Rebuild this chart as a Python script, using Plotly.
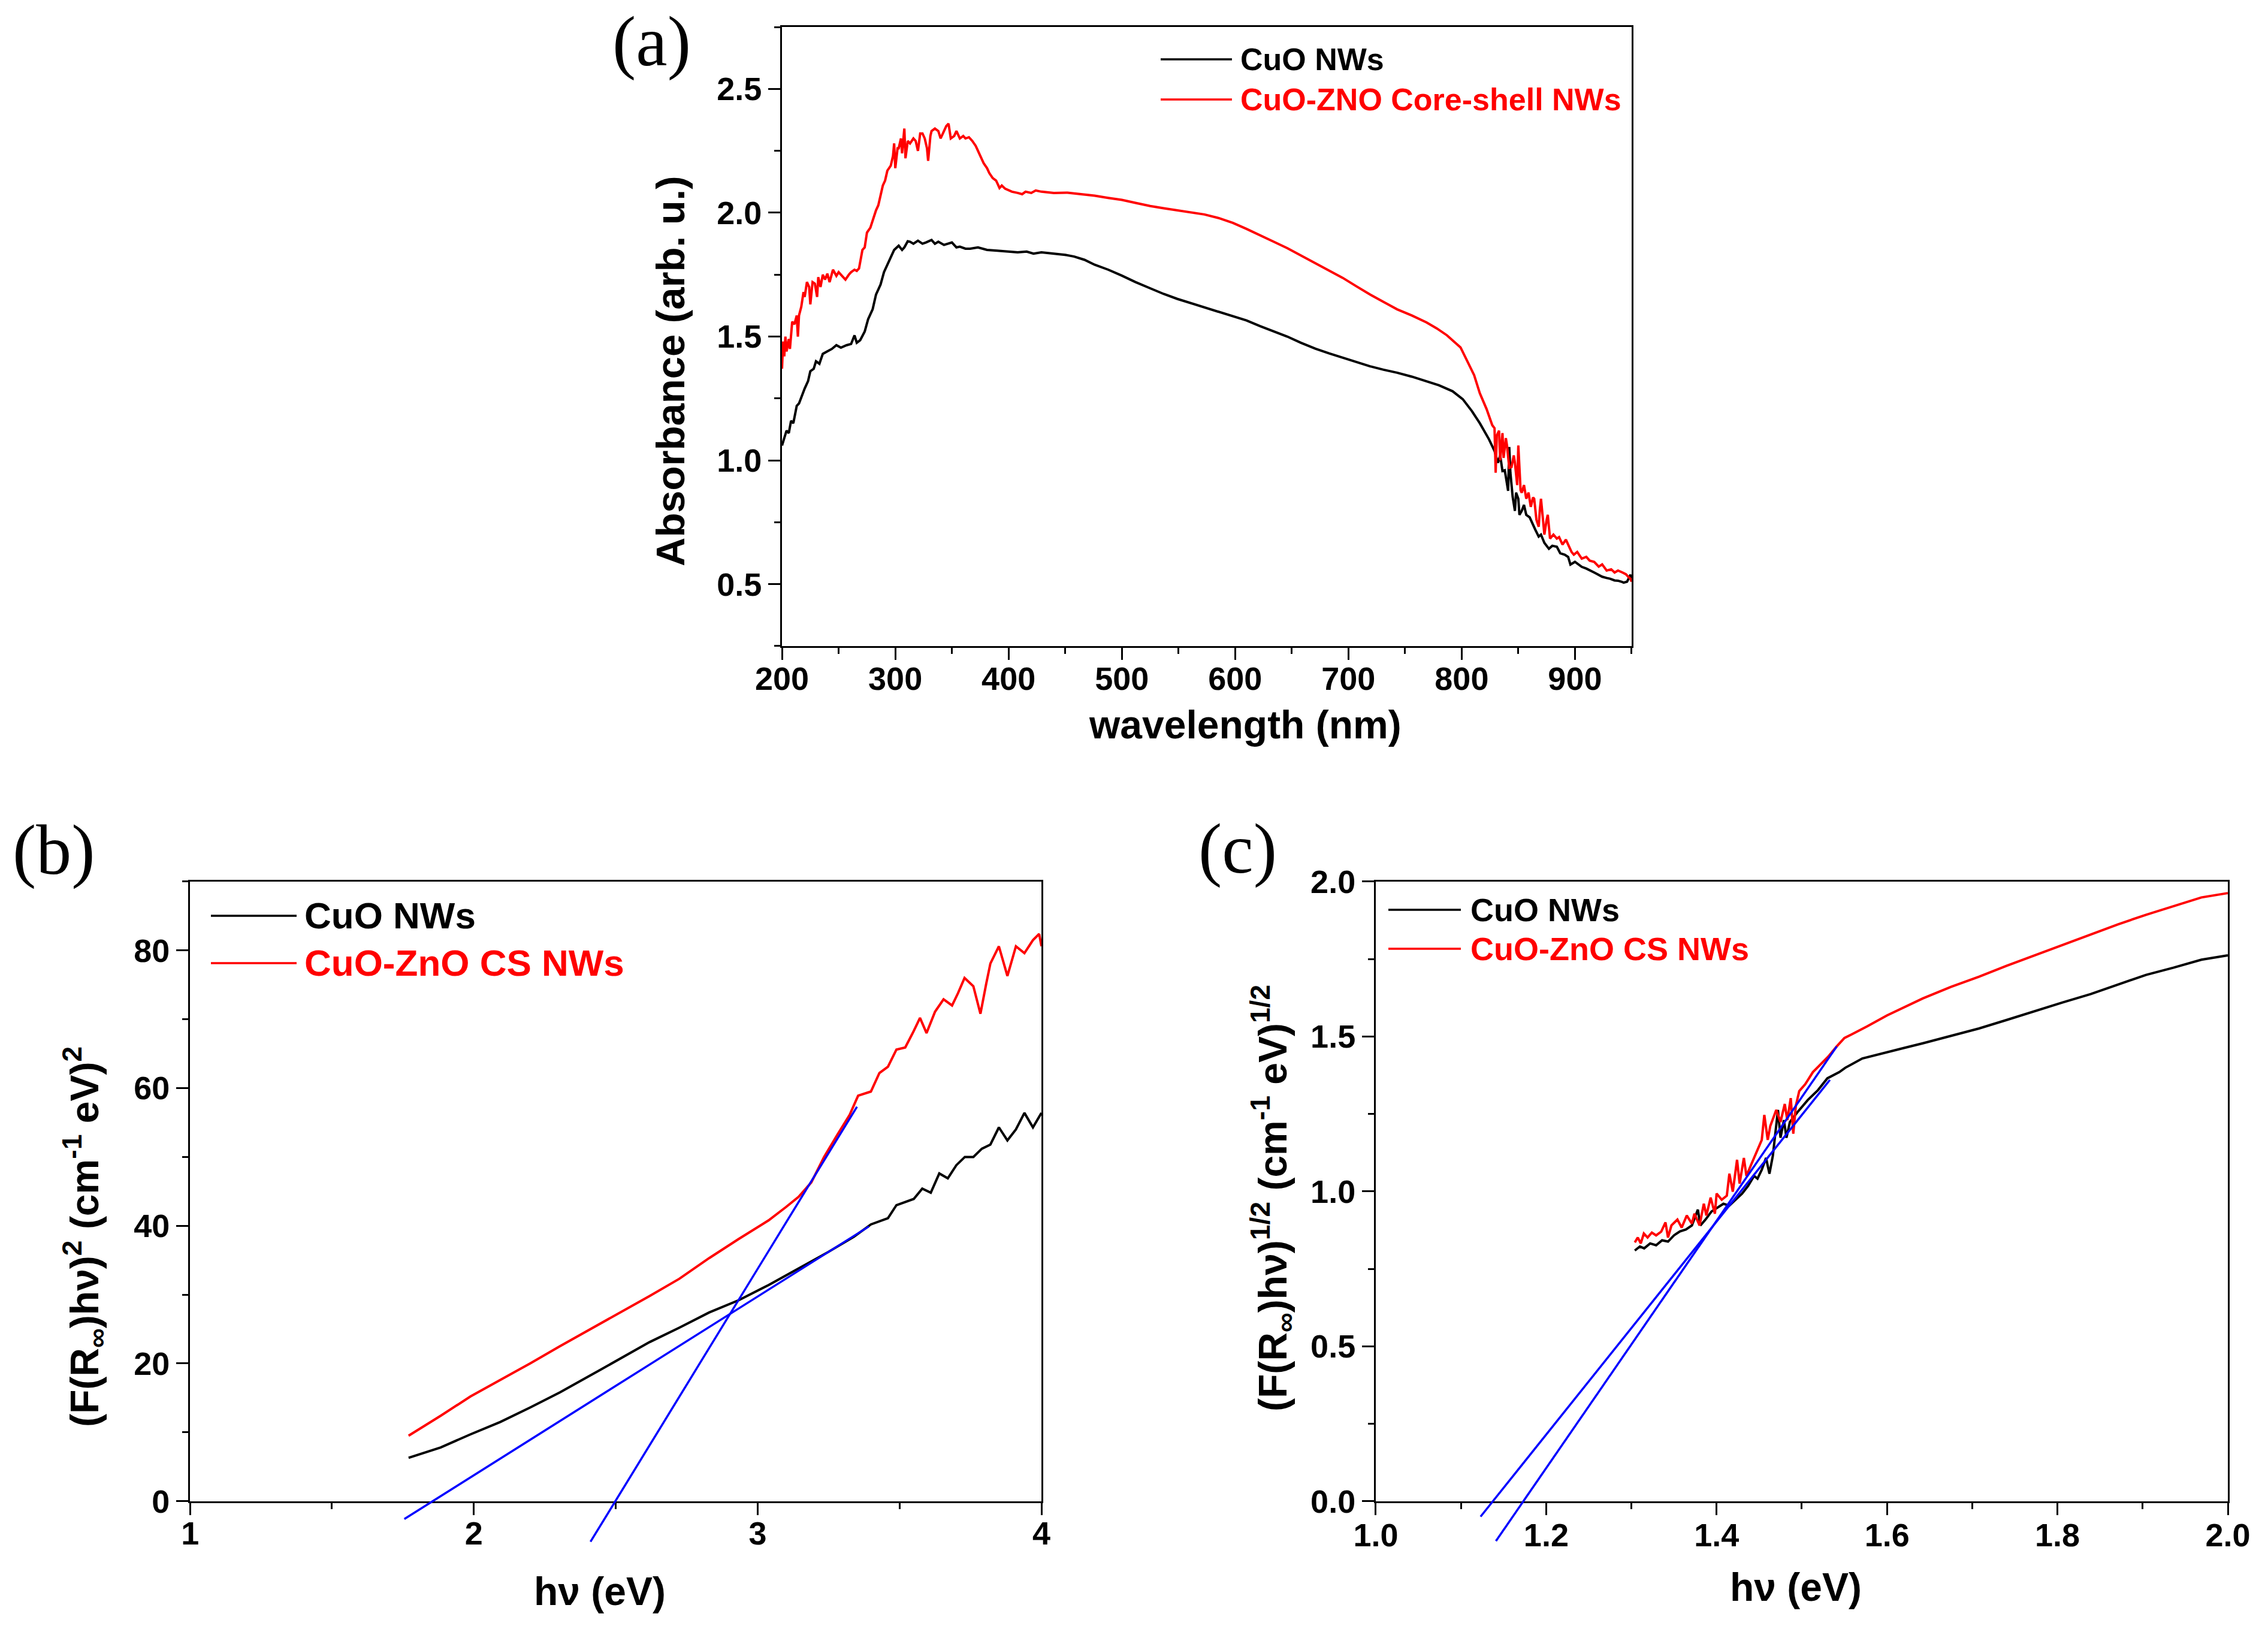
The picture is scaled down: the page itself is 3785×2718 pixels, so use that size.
import plotly.graph_objects as go

W, H = 3785, 2718

# ---------------- Panel (a): absorbance vs wavelength ----------------
a_wl_cuo = [200, 202, 204, 206, 208, 210, 213, 215, 218, 220, 223, 225, 228, 230, 233, 236, 240, 244, 248, 252,
            257, 261, 264, 266, 269, 273, 276, 280, 283, 287, 290, 295, 299, 303, 306, 308, 311, 313, 316, 320,
            324, 327, 332, 335, 338, 343, 347, 350, 354, 357, 362, 366, 373, 381, 390, 399, 408, 416, 422, 429,
            440, 450, 458, 467, 476, 488, 500, 512, 525, 537, 549, 561, 573, 586, 598, 610, 622, 634, 646, 658,
            671, 683, 695, 707, 719, 731, 743, 756, 769, 780, 792, 801, 809, 816, 824, 829, 832, 834, 836, 838,
            839, 841, 842, 843, 845, 847, 848, 850, 851, 853, 855, 857, 860, 862, 865, 868, 870, 873, 875, 877,
            880, 884, 887, 891, 894, 896, 900, 903, 906, 910, 914, 917, 920, 924, 928, 931, 935, 938, 941, 943,
            946, 949, 950]
a_abs_cuo = [1.06, 1.09, 1.12, 1.11, 1.16, 1.15, 1.22, 1.23, 1.27, 1.29, 1.32, 1.36, 1.37, 1.40, 1.39, 1.43, 1.44, 1.45, 1.465, 1.455,
             1.465, 1.47, 1.505, 1.475, 1.485, 1.52, 1.57, 1.61, 1.67, 1.71, 1.76, 1.81, 1.85, 1.867, 1.85, 1.86, 1.885, 1.883, 1.875, 1.887,
             1.875, 1.88, 1.89, 1.875, 1.883, 1.87, 1.875, 1.88, 1.86, 1.863, 1.855, 1.855, 1.86, 1.85, 1.847, 1.843, 1.84, 1.843, 1.835, 1.84,
             1.834, 1.83, 1.823, 1.81, 1.79, 1.77, 1.746, 1.72, 1.695, 1.672, 1.652, 1.635, 1.618, 1.60, 1.584, 1.565, 1.542, 1.52, 1.50, 1.475,
             1.451, 1.432, 1.414, 1.396, 1.38, 1.366, 1.354, 1.338, 1.32, 1.303, 1.279, 1.247, 1.199, 1.15, 1.086, 1.038, 0.99, 1.02, 0.957, 0.96,
             0.933, 0.877, 1.054, 0.95, 0.853, 0.796, 0.87, 0.845, 0.78, 0.796, 0.82, 0.78, 0.77, 0.748, 0.72, 0.692, 0.70, 0.667, 0.655, 0.643,
             0.655, 0.651, 0.625, 0.619, 0.61, 0.579, 0.59, 0.579, 0.57, 0.563, 0.555, 0.547, 0.54, 0.53, 0.525, 0.522, 0.515, 0.514, 0.51, 0.506,
             0.51, 0.538, 0.52]

a_wl_cs = [200, 201, 202, 203, 204, 206, 207, 208, 209, 211, 213, 214, 215, 217, 219, 220, 222, 224, 225, 227,
           229, 231, 232, 234, 236, 238, 240, 242, 245, 248, 250, 253, 256, 259, 261, 264, 266, 268, 271, 273,
           275, 278, 280, 283, 285, 287, 289, 291, 293, 296, 298, 299, 300, 302, 303, 305, 306, 308, 309, 311,
           313, 316, 318, 320, 322, 324, 326, 328, 329, 331, 332, 335, 338, 340, 343, 345, 347, 349, 352, 354,
           357, 360, 362, 365, 368, 371, 373, 376, 378, 381, 383, 386, 389, 392, 394, 397, 400, 403, 408, 412,
           415, 420, 424, 429, 440, 452, 464, 476, 488, 500, 512, 525, 537, 549, 561, 573, 586, 598, 610, 622,
           634, 646, 658, 671, 683, 695, 707, 719, 731, 743, 756, 769, 778, 787, 799, 806, 811, 816, 822, 827,
           829, 830, 831, 833, 834, 836, 837, 839, 840, 842, 844, 846, 847, 849, 850, 852, 853, 855, 857, 859,
           861, 863, 864, 866, 868, 869, 870, 872, 873, 875, 876, 878, 881, 884, 886, 889, 892, 894, 897, 899,
           902, 906, 910, 913, 917, 921, 924, 928, 932, 935, 938, 942, 945, 947, 949, 950]
a_abs_cs = [1.37, 1.48, 1.42, 1.50, 1.44, 1.49, 1.45, 1.52, 1.56, 1.55, 1.585, 1.50, 1.585, 1.62, 1.68, 1.66, 1.72, 1.70, 1.63, 1.72,
            1.714, 1.66, 1.74, 1.70, 1.75, 1.73, 1.754, 1.72, 1.77, 1.745, 1.76, 1.745, 1.73, 1.75, 1.76, 1.77, 1.765, 1.775, 1.85, 1.86,
            1.92, 1.94, 1.97, 2.01, 2.03, 2.07, 2.11, 2.13, 2.17, 2.19, 2.23, 2.28, 2.18, 2.26, 2.26, 2.30, 2.24, 2.34, 2.22, 2.29,
            2.28, 2.30, 2.29, 2.25, 2.32, 2.32, 2.30, 2.26, 2.21, 2.31, 2.33, 2.34, 2.33, 2.30, 2.33, 2.35, 2.36, 2.30, 2.31, 2.33,
            2.30, 2.31, 2.30, 2.305, 2.29, 2.27, 2.25, 2.22, 2.20, 2.18, 2.16, 2.14, 2.13, 2.10, 2.11, 2.097, 2.09, 2.085, 2.08, 2.075,
            2.085, 2.08, 2.09, 2.085, 2.08, 2.081, 2.075, 2.069, 2.06, 2.052, 2.04, 2.027, 2.018, 2.01, 2.0, 1.993, 1.978, 1.959, 1.935, 1.908,
            1.883, 1.857, 1.827, 1.797, 1.767, 1.737, 1.703, 1.67, 1.64, 1.61, 1.585, 1.557, 1.533, 1.505, 1.456, 1.392, 1.344, 1.271, 1.207, 1.142,
            1.13, 0.95, 1.10, 1.12, 1.00, 1.11, 1.01, 1.09, 1.06, 0.97, 0.973, 1.02, 0.99, 0.90, 1.06, 0.88, 0.869, 0.90, 0.845, 0.87,
            0.812, 0.85, 0.845, 0.76, 0.732, 0.80, 0.845, 0.75, 0.70, 0.76, 0.78, 0.684, 0.70, 0.684, 0.69, 0.66, 0.68, 0.66, 0.63, 0.619,
            0.63, 0.603, 0.61, 0.595, 0.59, 0.571, 0.58, 0.555, 0.56, 0.547, 0.555, 0.547, 0.54, 0.53, 0.522, 0.51]

# ---------------- Panel (b): (F(R)hv)^2 vs hv ----------------
b_hv_cuo = [1.770, 1.883, 1.988, 2.093, 2.198, 2.303, 2.408, 2.514, 2.619, 2.724, 2.829, 2.934, 3.039, 3.144, 3.249,
            3.339, 3.399, 3.459, 3.489, 3.550, 3.580, 3.610, 3.640, 3.670, 3.700, 3.730, 3.760, 3.790, 3.820, 3.850,
            3.880, 3.910, 3.940, 3.970, 4.000]
b_val_cuo = [6.3, 7.8, 9.7, 11.5, 13.6, 15.8, 18.2, 20.7, 23.1, 25.2, 27.4, 29.2, 31.4, 33.8, 36.2,
             38.4, 40.2, 41.1, 43.0, 43.9, 45.4, 44.8, 47.6, 46.9, 48.8, 50.0, 50.0, 51.2, 51.8, 54.3,
             52.4, 54.0, 56.4, 54.3, 56.4]
b_hv_cs = [1.770, 1.883, 1.988, 2.093, 2.198, 2.303, 2.408, 2.514, 2.619, 2.724, 2.829, 2.934, 3.039, 3.099, 3.144,
           3.189, 3.234, 3.279, 3.324, 3.354, 3.399, 3.429, 3.459, 3.489, 3.520, 3.550, 3.572, 3.595, 3.625, 3.655,
           3.685, 3.706, 3.729, 3.760, 3.785, 3.805, 3.820, 3.850, 3.880, 3.910, 3.940, 3.970, 3.992, 4.000]
b_val_cs = [9.5, 12.4, 15.2, 17.6, 20.0, 22.5, 24.9, 27.4, 29.8, 32.3, 35.3, 38.1, 40.8, 42.7, 44.2,
            46.3, 50.0, 53.1, 56.1, 58.9, 59.5, 62.2, 63.1, 65.6, 65.9, 68.3, 70.2, 68.0, 71.1, 72.9,
            72.0, 73.8, 76.0, 74.8, 70.8, 75.1, 78.1, 80.6, 76.3, 80.6, 79.6, 81.5, 82.4, 80.6]
b_fit_cuo_x = [1.755, 3.392]
b_fit_cuo_y = [-2.6, 39.9]
b_fit_cs_x = [2.411, 3.350]
b_fit_cs_y = [-5.9, 57.3]

# ---------------- Panel (c): (F(R)hv)^1/2 vs hv ----------------
c_hv_cuo = [1.304, 1.310, 1.315, 1.322, 1.329, 1.336, 1.343, 1.350, 1.357, 1.364, 1.371, 1.378, 1.381, 1.387, 1.394,
            1.401, 1.408, 1.415, 1.422, 1.430, 1.437, 1.444, 1.448, 1.453, 1.458, 1.462, 1.466, 1.469, 1.472, 1.475,
            1.479, 1.482, 1.486, 1.495, 1.507, 1.519, 1.530, 1.544, 1.551, 1.571, 1.600, 1.620, 1.642, 1.675, 1.708,
            1.740, 1.773, 1.806, 1.839, 1.871, 1.904, 1.936, 1.969, 2.000]
c_val_cuo = [0.809, 0.822, 0.816, 0.832, 0.826, 0.842, 0.838, 0.858, 0.871, 0.877, 0.89, 0.941, 0.89, 0.909, 0.935,
             0.948, 0.96, 0.954, 0.973, 0.993, 1.018, 1.05, 1.041, 1.07, 1.108, 1.057, 1.115, 1.192, 1.263, 1.173,
             1.23, 1.173, 1.224, 1.256, 1.295, 1.327, 1.365, 1.385, 1.399, 1.429, 1.45, 1.463, 1.478, 1.502, 1.526,
             1.553, 1.582, 1.61, 1.637, 1.667, 1.699, 1.722, 1.748, 1.762]
c_hv_cs = [1.304, 1.3075, 1.311, 1.3146, 1.319, 1.324, 1.329, 1.335, 1.340, 1.343, 1.347, 1.354, 1.359, 1.365, 1.371,
           1.374, 1.380, 1.385, 1.388, 1.393, 1.398, 1.400, 1.406, 1.412, 1.415, 1.419, 1.424, 1.427, 1.432, 1.435,
           1.441, 1.446, 1.453, 1.456, 1.460, 1.463, 1.470, 1.475, 1.480, 1.483, 1.487, 1.490, 1.493, 1.497, 1.504,
           1.513, 1.522, 1.531, 1.541, 1.550, 1.558, 1.577, 1.600, 1.620, 1.642, 1.675, 1.708, 1.740, 1.773, 1.806,
           1.839, 1.871, 1.904, 1.936, 1.969, 2.000]
c_val_cs = [0.835, 0.851, 0.832, 0.864, 0.851, 0.867, 0.858, 0.870, 0.90, 0.851, 0.89, 0.909, 0.883, 0.922, 0.896,
            0.928, 0.89, 0.96, 0.922, 0.98, 0.928, 0.993, 0.973, 0.986, 1.057, 0.999, 1.102, 1.025, 1.108, 1.05,
            1.089, 1.121, 1.166, 1.247, 1.166, 1.211, 1.263, 1.224, 1.282, 1.23, 1.301, 1.186, 1.276, 1.324, 1.346,
            1.385, 1.41, 1.435, 1.468, 1.495, 1.506, 1.533, 1.568, 1.594, 1.623, 1.66, 1.693, 1.728, 1.762, 1.797,
            1.831, 1.862, 1.893, 1.921, 1.949, 1.963]
c_fit_cuo_x = [1.123, 1.533]
c_fit_cuo_y = [-0.05, 1.36]
c_fit_cs_x = [1.141, 1.541]
c_fit_cs_y = [-0.129, 1.468]

legend_names = ["CuO NWs", "CuO-ZNO Core-shell NWs", "CuO-ZnO CS NWs"]

# ---------------- layout geometry ----------------
dom_a_x = [0.3448, 0.7194]
dom_a_y = [0.6034, 0.9834]
dom_b_x = [0.0838, 0.4592]
dom_c_x = [0.6066, 0.9823]
dom_bc_y = [0.0785, 0.4588]
ext = 0.035

range_a_x = [200, 950]
range_a_y = [0.25, 2.75]
range_b_x = [1, 4]
range_b_y = [0, 90]
range_c_x = [1.0, 2.0]
range_c_y = [0, 2.0]

BLACK = "#000000"
RED = "#FF0000"
BLUE = "#0000FF"
SANS = "Liberation Sans, Arial, sans-serif"
SERIF = "Liberation Serif, Times New Roman, serif"

fig = go.Figure()

fig.add_trace(go.Scatter(x=a_wl_cuo, y=a_abs_cuo, mode="lines", line=dict(color=BLACK, width=4),
                         name=legend_names[0], xaxis="x", yaxis="y", showlegend=False))
fig.add_trace(go.Scatter(x=a_wl_cs, y=a_abs_cs, mode="lines", line=dict(color=RED, width=4),
                         name=legend_names[1], xaxis="x", yaxis="y", showlegend=False))

fig.add_trace(go.Scatter(x=b_hv_cuo, y=b_val_cuo, mode="lines", line=dict(color=BLACK, width=4),
                         name=legend_names[0], xaxis="x2", yaxis="y2", showlegend=False))
fig.add_trace(go.Scatter(x=b_hv_cs, y=b_val_cs, mode="lines", line=dict(color=RED, width=4),
                         name=legend_names[2], xaxis="x2", yaxis="y2", showlegend=False))

fig.add_trace(go.Scatter(x=c_hv_cuo, y=c_val_cuo, mode="lines", line=dict(color=BLACK, width=4),
                         name=legend_names[0], xaxis="x3", yaxis="y3", showlegend=False))
fig.add_trace(go.Scatter(x=c_hv_cs, y=c_val_cs, mode="lines", line=dict(color=RED, width=4),
                         name=legend_names[2], xaxis="x3", yaxis="y3", showlegend=False))

# linear fits drawn on hidden overlay subplots (same scale, domain extended below the axis)
fig.add_trace(go.Scatter(x=b_fit_cuo_x, y=b_fit_cuo_y, mode="lines", line=dict(color=BLUE, width=3.5),
                         xaxis="x4", yaxis="y4", showlegend=False, name="fit CuO"))
fig.add_trace(go.Scatter(x=b_fit_cs_x, y=b_fit_cs_y, mode="lines", line=dict(color=BLUE, width=3.5),
                         xaxis="x4", yaxis="y4", showlegend=False, name="fit CS"))
fig.add_trace(go.Scatter(x=c_fit_cuo_x, y=c_fit_cuo_y, mode="lines", line=dict(color=BLUE, width=3.5),
                         xaxis="x5", yaxis="y5", showlegend=False, name="fit CuO"))
fig.add_trace(go.Scatter(x=c_fit_cs_x, y=c_fit_cs_y, mode="lines", line=dict(color=BLUE, width=3.5),
                         xaxis="x5", yaxis="y5", showlegend=False, name="fit CS"))

tickfont = dict(family=SANS, size=54, color=BLACK, weight="bold")


def ax(domain, rng, anchor, tickvals=None, dtick=None, minor_dtick=None, fmt=None, standoff=0):
    d = dict(domain=domain, range=rng, anchor=anchor, showline=True, linecolor=BLACK, linewidth=3,
             mirror=True, ticks="outside", ticklen=20, tickwidth=3, tickcolor=BLACK,
             showgrid=False, zeroline=False, tickfont=tickfont, automargin=False,
             ticklabelstandoff=standoff,
             minor=dict(ticks="outside", ticklen=10, tickwidth=3, tickcolor=BLACK, dtick=minor_dtick,
                        showgrid=False))
    if tickvals is not None:
        d["tickvals"] = tickvals
    if dtick is not None:
        d["dtick"] = dtick
        d["tick0"] = 0
    if fmt:
        d["tickformat"] = fmt
    return d


def hidden_x(domain, rng, anchor):
    return dict(domain=domain, range=rng, anchor=anchor, visible=False, showticklabels=False,
                showgrid=False, zeroline=False, automargin=False)


def overlay_y(domain, rng, anchor):
    lo = domain[0] - ext
    span = rng[1] - rng[0]
    new_lo = rng[0] - ext * span / (domain[1] - domain[0])
    return dict(domain=[lo, domain[1]], range=[new_lo, rng[1]], anchor=anchor, visible=False,
                showticklabels=False, showgrid=False, zeroline=False, automargin=False)


fig.update_layout(
    width=W, height=H, margin=dict(l=0, r=0, t=0, b=0, autoexpand=False),
    paper_bgcolor="white", plot_bgcolor="rgba(0,0,0,0)", showlegend=False,
    xaxis=ax(dom_a_x, range_a_x, "y", tickvals=[200, 300, 400, 500, 600, 700, 800, 900], minor_dtick=50,
             standoff=-15),
    yaxis=ax(dom_a_y, range_a_y, "x", tickvals=[0.5, 1.0, 1.5, 2.0, 2.5], minor_dtick=0.25, fmt=".1f"),
    xaxis2=ax(dom_b_x, range_b_x, "y2", dtick=1, minor_dtick=0.5, standoff=-15),
    yaxis2=ax(dom_bc_y, range_b_y, "x2", tickvals=[0, 20, 40, 60, 80], minor_dtick=10),
    xaxis3=ax(dom_c_x, range_c_x, "y3", dtick=0.2, minor_dtick=0.1, fmt=".1f", standoff=-12),
    yaxis3=ax(dom_bc_y, range_c_y, "x3", dtick=0.5, minor_dtick=0.25, fmt=".1f"),
    xaxis4=hidden_x(dom_b_x, range_b_x, "y4"),
    yaxis4=overlay_y(dom_bc_y, range_b_y, "x4"),
    xaxis5=hidden_x(dom_c_x, range_c_x, "y5"),
    yaxis5=overlay_y(dom_bc_y, range_c_y, "x5"),
)


def px(x):
    return x / W


def py(y):
    return 1 - y / H


annotations = []
shapes = []


def text(x, y, s, size, angle=0, family=SANS, weight="bold", color=BLACK, xanchor="center"):
    annotations.append(dict(x=px(x), y=py(y), xref="paper", yref="paper", text=s, showarrow=False,
                            textangle=angle, xanchor=xanchor, yanchor="middle",
                            font=dict(family=family, size=size, color=color, weight=weight)))


# axis titles
text(2078, 1209, "wavelength (nm)", 66)
text(1118, 620, "Absorbance (arb. u.)", 67, angle=-90)
text(1001, 2655, "hν (eV)", 66)
text(141, 2064, "(F(R<sub>∞</sub>)hν)<sup>2</sup> (cm<sup>-1</sup> eV)<sup>2</sup>", 66, angle=-90)
text(2997, 2648, "hν (eV)", 66)
text(2124, 1999, "(F(R<sub>∞</sub>)hν)<sup>1/2</sup> (cm<sup>-1</sup> eV)<sup>1/2</sup>", 66, angle=-90)

# panel letters
text(1087, 70, "(a)", 118, family=SERIF, weight="normal")
text(90, 1418, "(b)", 118, family=SERIF, weight="normal")
text(2065, 1416, "(c)", 118, family=SERIF, weight="normal")


# legends
def legend_item(x0, x1, xt, y, color, label, size):
    shapes.append(dict(type="line", xref="paper", yref="paper", x0=px(x0), x1=px(x1), y0=py(y), y1=py(y),
                       line=dict(color=color, width=3.5)))
    text(xt, y, label, size, color=color, xanchor="left")


legend_item(1937, 2056, 2068, 99, BLACK, legend_names[0], 52)
legend_item(1937, 2056, 2068, 166, RED, legend_names[1], 52)
legend_item(352, 495, 506, 1528, BLACK, legend_names[0], 62)
legend_item(352, 495, 506, 1607, RED, legend_names[2], 62)
legend_item(2317, 2438, 2452, 1518, BLACK, legend_names[0], 54)
legend_item(2317, 2438, 2452, 1583, RED, legend_names[2], 54)

fig.update_layout(annotations=annotations, shapes=shapes)

fig.write_html("out.html")
